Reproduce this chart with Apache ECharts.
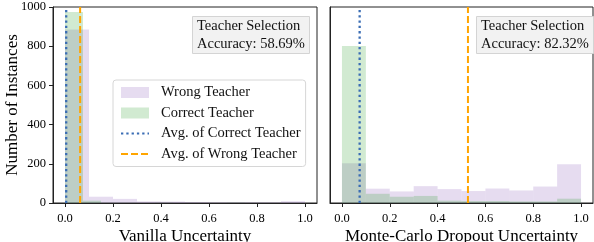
<!DOCTYPE html>
<html><head><meta charset="utf-8">
<script src="https://cdn.jsdelivr.net/npm/echarts@6/dist/echarts.min.js"></script>
<style>html,body{margin:0;padding:0;background:#fff}#c{width:594px;height:242px}</style>
</head><body><div id="c"></div>
<script>
// ---- data ----
const xTickValues = [0.0, 0.2, 0.4, 0.6, 0.8, 1.0];
const vanillaWrongEdges = [0.0, 0.1, 0.2, 0.3, 0.4, 0.5, 0.6, 0.7, 0.8, 0.9, 1.0];
const vanillaWrongCounts = [885, 32, 21, 8, 7, 4, 3, 3, 3, 9];
const vanillaCorrectEdges = [0.0, 0.075, 0.15, 0.225, 0.3, 0.375, 0.45, 0.525, 0.6, 0.675, 0.75];
const vanillaCorrectCounts = [974, 12, 1, 1, 0, 1, 0, 0, 0, 1];
const mcWrongEdges = [0.0, 0.1, 0.2, 0.3, 0.4, 0.5, 0.6, 0.7, 0.8, 0.9, 1.0];
const mcWrongCounts = [203, 73, 59, 86, 71, 61, 74, 64, 84, 198];
const mcCorrectEdges = [0.0, 0.1, 0.2, 0.3, 0.4, 0.5, 0.6, 0.7, 0.8, 0.9, 1.0];
const mcCorrectCounts = [801, 47, 32, 36, 12, 10, 10, 8, 8, 22];
const vanillaAvgCorrect = 0.005;
const vanillaAvgWrong = 0.063;
const mcAvgCorrect = 0.074;
const mcAvgWrong = 0.527;
const accuracyTexts = ['Teacher Selection\nAccuracy: 58.69%', 'Teacher Selection\nAccuracy: 82.32%'];
const xNames = ['Vanilla Uncertainty', 'Monte-Carlo Dropout Uncertainty'];
const yName = 'Number of Instances';
const names = ['Wrong Teacher', 'Correct Teacher', 'Avg. of Correct Teacher', 'Avg. of Wrong Teacher'];

// ---- styles ----
const FONT = 'Liberation Serif';
const WRONG_C = 'rgba(148,103,189,0.23)';
const CORRECT_C = 'rgba(44,160,44,0.22)';
const BLUE = '#3a6db4';
const ORANGE = '#ffa500';
const FRAME = '#222';

function hist(name, edges, counts, color, idx) {
  const data = counts.map((c, i) => [edges[i], edges[i + 1], c]);
  return {
    type: 'custom', name, xAxisIndex: idx, yAxisIndex: idx, data,
    encode: { x: [0, 1], y: 2 }, itemStyle: { color }, z: 2, clip: true,
    renderItem(params, api) {
      const p0 = api.coord([api.value(0), api.value(2)]);
      const p1 = api.coord([api.value(1), 0]);
      return { type: 'rect', shape: { x: p0[0], y: p0[1], width: p1[0] - p0[0], height: p1[1] - p0[1] },
        style: { fill: color } };
    }
  };
}
function vline(name, x, color, dash, width, idx) {
  return {
    type: 'line', name, xAxisIndex: idx, yAxisIndex: idx, data: [[x, 0], [x, 1000]],
    symbol: 'none', z: 5, silent: true,
    lineStyle: { color, width, type: dash }, itemStyle: { color }
  };
}
function xAxis(idx) {
  return {
    type: 'value', gridIndex: idx, min: -0.05, max: 1.05,
    name: xNames[idx], nameLocation: 'middle', nameGap: 25, nameMoveOverlap: false,
    nameTextStyle: { fontFamily: FONT, fontSize: 17, color: '#000' },
    axisLine: { show: true, onZero: false, lineStyle: { color: FRAME, width: 1 } },
    axisTick: { show: true, length: 4, customValues: xTickValues, lineStyle: { color: FRAME } },
    axisLabel: { customValues: xTickValues, formatter: v => v.toFixed(1), fontFamily: FONT, fontSize: 12.5, color: '#000', margin: 9 },
    splitLine: { show: false }
  };
}
function yAxis(idx) {
  return {
    type: 'value', gridIndex: idx, min: 0, max: 1000, interval: 200,
    name: idx === 0 ? yName : '', nameLocation: 'middle', nameGap: 32, nameMoveOverlap: false,
    nameTextStyle: { fontFamily: FONT, fontSize: 17, color: '#000' },
    axisLine: { show: true, onZero: false, lineStyle: { color: FRAME, width: 1 } },
    axisTick: { show: idx === 0, length: 4, lineStyle: { color: FRAME } },
    axisLabel: { show: idx === 0, formatter: v => String(v), fontFamily: FONT, fontSize: 12.5, color: '#000', margin: 7 },
    splitLine: { show: false }
  };
}
const titleBox = (i, left) => ({
  text: accuracyTexts[i], left, top: 16,
  backgroundColor: '#f2f2f2', borderColor: '#d4d4d4', borderWidth: 1,
  padding: [1, 5, 1, 5],
  textStyle: { fontFamily: FONT, fontSize: 14.5, fontWeight: 'normal', color: '#111', lineHeight: 18 }
});
const hideSym = { color: 'rgba(0,0,0,0)', borderWidth: 0 };
const gridBase = { top: 7, height: 196, show: true, borderColor: FRAME, borderWidth: 1,
  backgroundColor: 'transparent', containLabel: false, outerBoundsMode: 'none' };

const chart = echarts.init(document.getElementById('c'), null, { renderer: 'canvas' });
chart.setOption({
  animation: false,
  title: [titleBox(0, 192), titleBox(1, 476)],
  grid: [
    Object.assign({ left: 53, width: 264 }, gridBase),
    Object.assign({ left: 330, width: 263 }, gridBase)
  ],
  xAxis: [xAxis(0), xAxis(1)],
  yAxis: [yAxis(0), yAxis(1)],
  legend: {
    orient: 'vertical', left: 113, top: 80,
    padding: [5, 5, 5, 7], itemGap: 5.5, itemWidth: 28, itemHeight: 11,
    backgroundColor: 'rgba(255,255,255,0.85)', borderColor: '#d6d6d6', borderWidth: 1, borderRadius: 3,
    textStyle: { fontFamily: FONT, fontSize: 14.5, color: '#111', padding: [0, 0, 0, 7] },
    data: [
      { name: names[0], icon: 'rect' },
      { name: names[1], icon: 'rect' },
      { name: names[2], itemStyle: hideSym },
      { name: names[3], itemStyle: hideSym }
    ]
  },
  series: [
    hist(names[0], vanillaWrongEdges, vanillaWrongCounts, WRONG_C, 0),
    hist(names[1], vanillaCorrectEdges, vanillaCorrectCounts, CORRECT_C, 0),
    vline(names[2], vanillaAvgCorrect, BLUE, [2.3, 3], 2.3, 0),
    vline(names[3], vanillaAvgWrong, ORANGE, [7, 3], 2, 0),
    hist(names[0], mcWrongEdges, mcWrongCounts, WRONG_C, 1),
    hist(names[1], mcCorrectEdges, mcCorrectCounts, CORRECT_C, 1),
    vline(names[2], mcAvgCorrect, BLUE, [2.3, 3], 2.3, 1),
    vline(names[3], mcAvgWrong, ORANGE, [7, 3], 2, 1)
  ]
});
</script></body></html>
